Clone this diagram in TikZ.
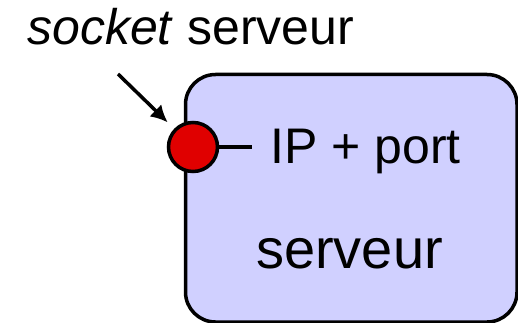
\documentclass[tikz,border=0pt]{standalone}
\usepackage{fontspec}
\setmainfont{Liberation Sans}
\usetikzlibrary{arrows.meta}
\definecolor{boxblue}{HTML}{D0D0FF}
\definecolor{sockred}{HTML}{E00000}
\tikzset{
  boite/.style={draw, line width=3.5pt, fill=boxblue, rounded corners=30pt},
  prise/.style={circle, draw, line width=3.5pt, fill=sockred, minimum size=49pt, inner sep=0pt},
  etiq/.style={inner sep=0pt, anchor=base west}
}
\begin{document}
\begin{tikzpicture}[x=1pt, y=-1pt]
\useasboundingbox (0,0) rectangle (518,323);
\draw[boite] (185.5,74.5) rectangle (517,322); % serveur
\node[prise] (sock) at (193,147) {}; % socket
\coordinate (fil) at (252,147);
\draw[line width=3.5pt] (sock.east) -- (fil); % fil
\node[etiq, font=\fontsize{50}{56}\selectfont] (ipport) at (270,163) {IP + port};
\node[etiq, font=\fontsize{56}{62}\selectfont] (serv) at (256,268) {serveur};
\node[etiq, font=\fontsize{50}{56}\selectfont] (titre) at (27,45) {\textit{socket} serveur};
\coordinate (depart) at (118,74);
\draw[line width=3.5pt, -{Latex[length=17pt, width=17pt]}, shorten >=9pt] (depart) -- (sock); % fleche
\end{tikzpicture}
\end{document}
